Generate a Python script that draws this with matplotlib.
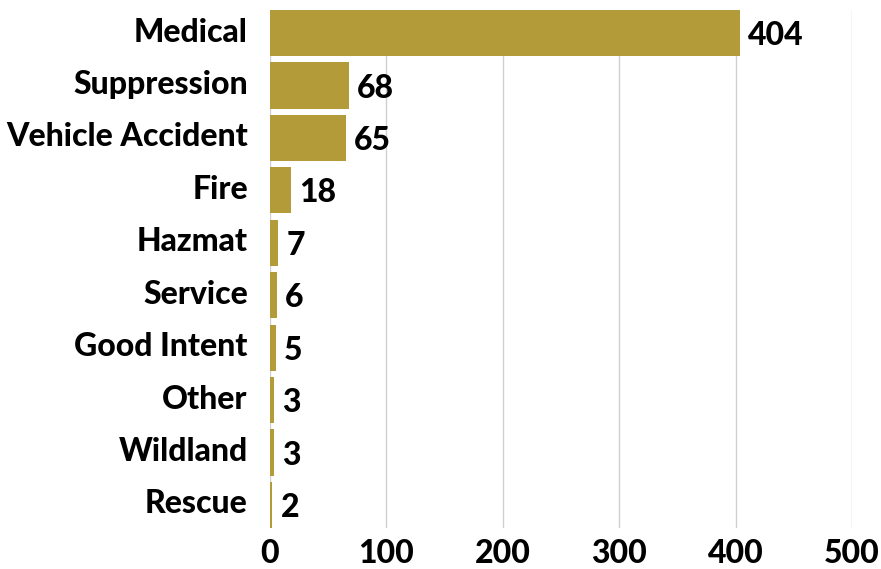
import matplotlib
matplotlib.use("Agg")
import matplotlib.pyplot as plt
import matplotlib.transforms as mtransforms
import numpy as np

plt.rcParams['font.family'] = ['Lato', 'DejaVu Sans']

categories = ["Medical", "Suppression", "Vehicle Accident", "Fire", "Hazmat",
              "Service", "Good Intent", "Other", "Wildland", "Rescue"]
counts = [404, 68, 65, 18, 7, 6, 5, 3, 3, 2]
x_ticks = [0, 100, 200, 300, 400, 500]

bar_color = "#B39B3A"
fs = 23

fig = plt.figure(figsize=(8.81, 5.69), dpi=100)
ax = fig.add_axes([0.3065, 0.072, 0.9671 - 0.3065, 0.9824 - 0.072])

y = np.arange(len(categories))[::-1]
ax.barh(y, counts, height=0.88, color=bar_color, zorder=2)

for yi, v in zip(y, counts):
    ax.text(v + 7, yi - 0.05, f"{v}", va="center", ha="left",
            fontsize=fs, fontweight="black", color="black")

ax.set_yticks(y)
ax.set_yticklabels(categories, fontsize=fs, fontweight="black")
ax.set_xticks(x_ticks)
ax.set_xticklabels([str(t) for t in x_ticks], fontsize=fs, fontweight="black")
ax.tick_params(axis="y", length=0, pad=16)
ax.tick_params(axis="x", length=0, pad=8)

# nudge category labels up a little
shift = mtransforms.ScaledTranslation(0, 2.5 / 72, fig.dpi_scale_trans)
for lab in ax.get_yticklabels():
    lab.set_transform(lab.get_transform() + shift)

ax.set_xlim(0, 500)
ax.set_ylim(-0.44, len(categories) - 1 + 0.44)

ax.grid(axis="x", color="#d0d0d0", linewidth=1, zorder=0)
ax.set_axisbelow(True)
for s in ax.spines.values():
    s.set_visible(False)

fig.savefig("out.png", dpi=100)
